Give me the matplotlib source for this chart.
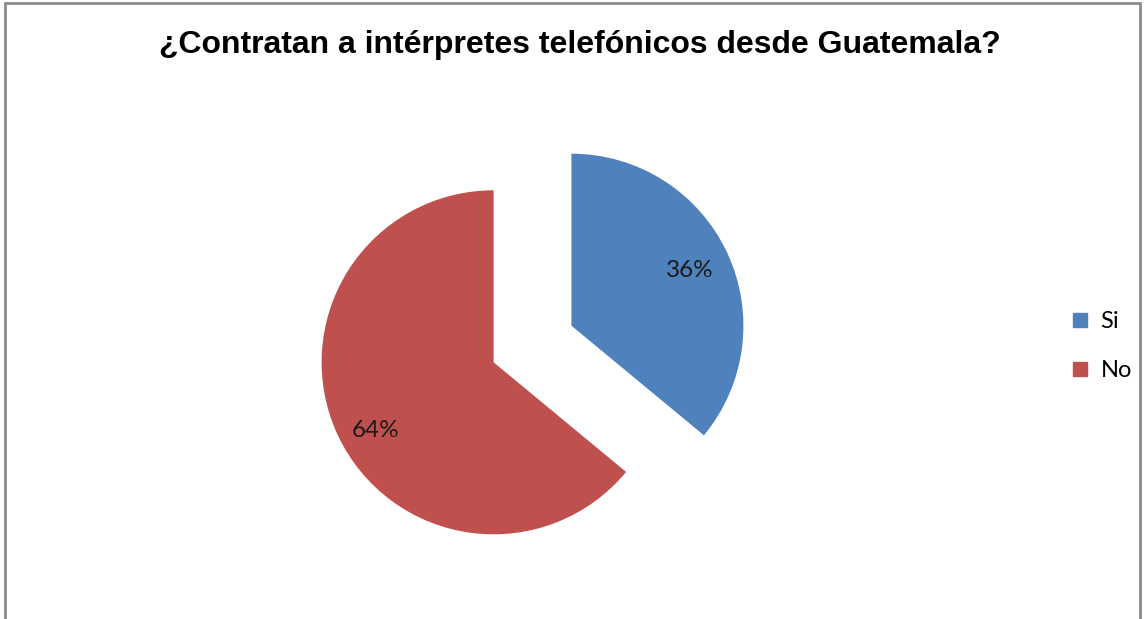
"""Pie chart: hiring of telephone interpreters from Guatemala."""

import matplotlib
matplotlib.use("Agg")
import matplotlib.pyplot as plt
from matplotlib.lines import Line2D
from matplotlib.patches import Rectangle

labels = ["Si", "No"]
values = [36, 64]
colors = ["#4F81BD", "#C0504D"]

TITLE = "¿Contratan a intérpretes telefónicos desde Guatemala?"

W, H = 1144, 619
fig = plt.figure(figsize=(W / 100, H / 100), dpi=100)
fig.patch.set_facecolor("white")

# axes spans the whole figure; one data unit = pie radius in pixels
radius_px = 172.0
cx, cy = 532.5, 344.0
ax = fig.add_axes([0, 0, 1, 1])

wedges, _, autotexts = ax.pie(
    values,
    colors=colors,
    startangle=90,
    counterclock=False,
    explode=[0.25, 0.25],
    autopct=lambda p: f"{p:.0f}%",
    pctdistance=0.76,
    radius=1.0,
    textprops=dict(family="Lato", fontsize=17.5, color="#1a1a1a"),
    frame=True,
)
# nudge the big slice's label a bit lower, toward the bottom of the wedge
autotexts[1].set_y(autotexts[1].get_position()[1] - 0.07)

ax.set_xlim(-cx / radius_px, (W - cx) / radius_px)
ax.set_ylim((cy - H) / radius_px, cy / radius_px)
ax.set_aspect("equal")
ax.set_axis_off()

fig.text(580 / W, 1 - 45 / H, TITLE, ha="center", va="center",
         family="Liberation Sans", fontweight="bold", fontsize=23)

handles = [Line2D([], [], marker="s", linestyle="none", markersize=9.5,
                  markerfacecolor=c, markeredgecolor=c) for c in colors]
fig.legend(handles, labels, loc="center left",
           bbox_to_anchor=(1071 / W, 1 - 346 / H), frameon=False,
           prop=dict(family="Lato", size=17), handlelength=0.8,
           handletextpad=0.45, labelspacing=1.2, borderpad=0,
           borderaxespad=0)

# chart area border (open at the bottom)
fig.add_artist(Rectangle((5 / W, -0.05), (1140 - 5) / W, 1.05 - 3 / H,
                         transform=fig.transFigure, fill=False,
                         edgecolor="#8c8c8c", linewidth=2))

fig.savefig("out.png", dpi=100)
